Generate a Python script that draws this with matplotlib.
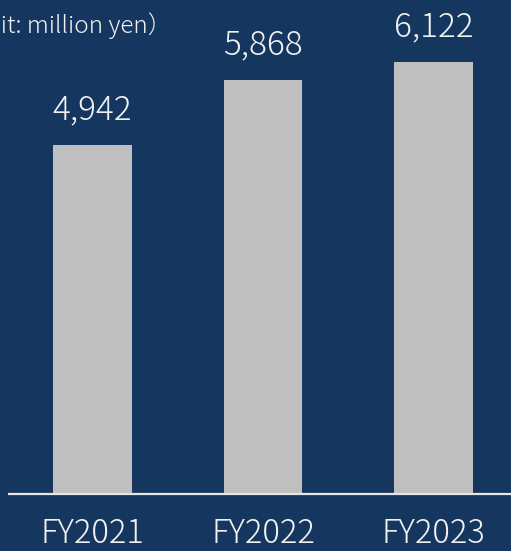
import matplotlib.pyplot as plt
import numpy as np

plt.rcParams['font.family'] = ['Noto Sans CJK JP', 'DejaVu Sans']

years = ['FY2021', 'FY2022', 'FY2023']
sales = [4942, 5868, 6122]
unit_label = '（Unit: million yen）'

bg = '#15375f'
bar_col = '#bfbfbf'
txt_col = '#f2f2f2'

fig = plt.figure(figsize=(5.11, 5.51), dpi=100, facecolor=bg)
ax = fig.add_axes([0, 57 / 551, 1, 494 / 551])
ax.set_facecolor(bg)

x = np.arange(len(years))
ax.bar(x, sales, width=0.463, color=bar_col)

ax.set_xlim(-92.5 / 170.5, (511 - 92.5) / 170.5)
ax.set_ylim(0, 494 / 0.07062)
ax.axis('off')

# baseline
ax.plot([-84.5 / 170.5, (511 - 92.5) / 170.5], [0, 0], color='#e6e6e6', lw=1.6,
        clip_on=False, solid_capstyle='butt')

for xi, v, yr in zip(x, sales, years):
    ax.annotate(f'{v:,}', (xi, v), xytext=(0, 18.5), textcoords='offset points',
                ha='center', va='baseline', fontsize=24, color=txt_col,
                fontweight='light')
    ax.annotate(yr, (xi, 0), xytext=(0, -35.5), textcoords='offset points',
                ha='center', va='baseline', fontsize=23.5, color=txt_col,
                fontweight='light', annotation_clip=False)

fig.text(172 / 511, 1 - 33 / 551, unit_label, ha='right', va='baseline',
         fontsize=17.5, color=txt_col, fontweight='light')

fig.savefig('out.png', dpi=100, facecolor=bg)
